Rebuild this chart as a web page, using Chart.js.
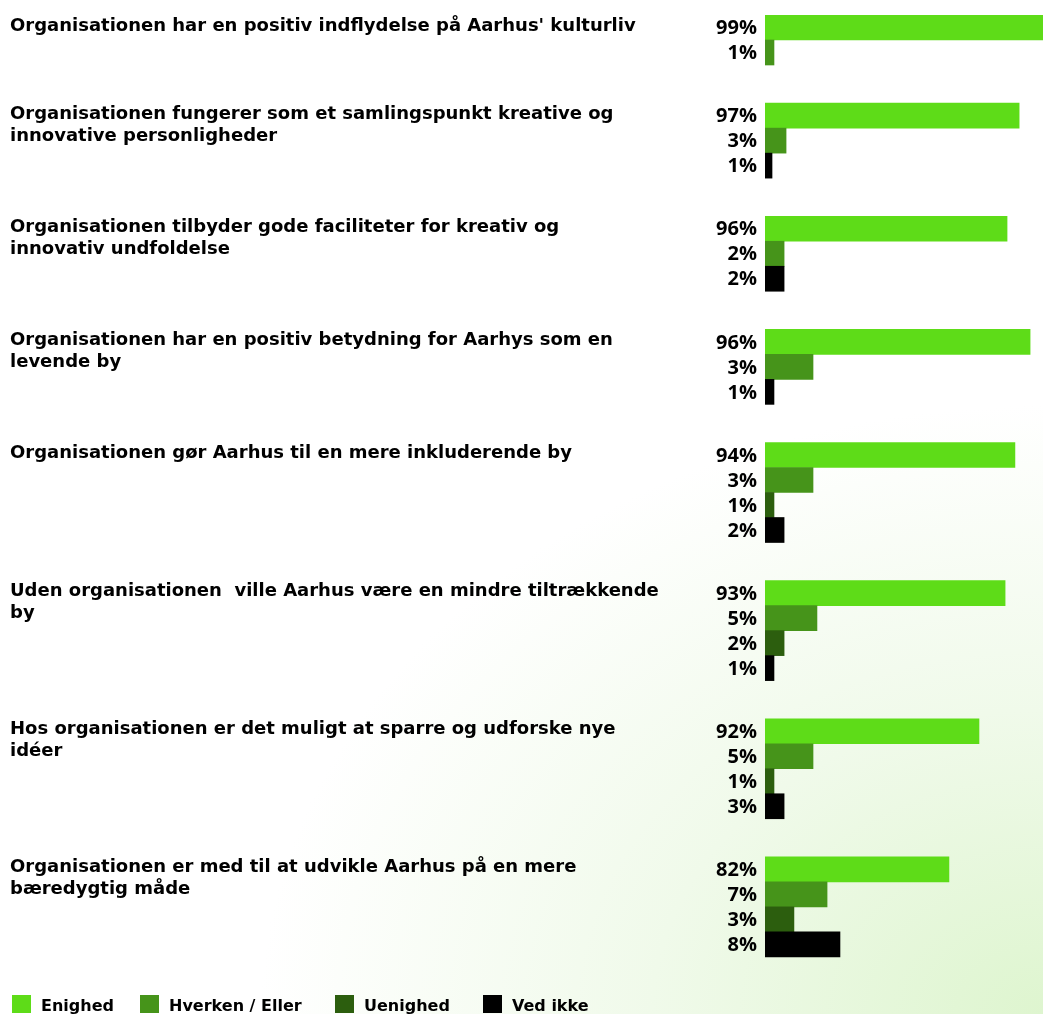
<!DOCTYPE html>
<html>
<head>
<meta charset="utf-8">
<script src="https://cdn.jsdelivr.net/npm/chart.js@4.4.0/dist/chart.umd.min.js"></script>
<style>
  html, body { margin: 0; padding: 0; }
  body {
    width: 1043px; height: 1014px; overflow: hidden;
    background: radial-gradient(ellipse 75% 60% at 100% 100%, #def5cf 0%, #f0faea 50%, #ffffff 100%);
  }
  #wrap { position: absolute; left: 0; top: 0; width: 1043px; height: 1014px; }
</style>
</head>
<body>
<div id="wrap"><canvas id="myChart" width="1043" height="1014"></canvas></div>
<script>
// questions, one line per entry
var questions = [
  ["Organisationen har en positiv indflydelse på Aarhus' kulturliv"],
  ["Organisationen fungerer som et samlingspunkt kreative og", "innovative personligheder"],
  ["Organisationen tilbyder gode faciliteter for kreativ og", "innovativ undfoldelse"],
  ["Organisationen har en positiv betydning for Aarhys som en", "levende by"],
  ["Organisationen gør Aarhus til en mere inkluderende by"],
  ["Uden organisationen  ville Aarhus være en mindre tiltrækkende", "by"],
  ["Hos organisationen er det muligt at sparre og udforske nye", "idéer"],
  ["Organisationen er med til at udvikle Aarhus på en mere", "bæredygtig måde"]
];

var categories = ["Enighed", "Hverken / Eller", "Uenighed", "Ved ikke"];
var catColors = ["#5edc18", "#46941a", "#2c5e0e", "#000000"];

// which answer category each bar in a group belongs to (0..3)
var groupCats = [
  [0, 1],
  [0, 1, 3],
  [0, 1, 3],
  [0, 1, 3],
  [0, 1, 2, 3],
  [0, 1, 2, 3],
  [0, 1, 2, 3],
  [0, 1, 2, 3]
];

// percent labels as printed
var percentLabels = [
  ["99%", "1%"],
  ["97%", "3%", "1%"],
  ["96%", "2%", "2%"],
  ["96%", "3%", "1%"],
  ["94%", "3%", "1%", "2%"],
  ["93%", "5%", "2%", "1%"],
  ["92%", "5%", "1%", "3%"],
  ["82%", "7%", "3%", "8%"]
];

// bar lengths as drawn in the picture (same scale for all bars)
var barValues = [
  [99, 3.2],
  [90.5, 7.5, 2.5],
  [86.2, 6.8, 6.8],
  [94.4, 17.1, 3.2],
  [89, 17.1, 3.2, 6.8],
  [85.5, 18.5, 6.8, 3.2],
  [76.2, 17.1, 3.2, 6.8],
  [65.5, 22.1, 10.3, 26.7]
];

var groupGap = 1.525;

function init() {
  var points = [];
  var colors = [];
  var labelsForBars = [];
  var groupStart = [];
  var pos = 0;
  for (var g = 0; g < barValues.length; g++) {
    groupStart.push(pos);
    for (var i = 0; i < barValues[g].length; i++) {
      points.push({ x: barValues[g][i], y: pos + i });
      colors.push(catColors[groupCats[g][i]]);
      labelsForBars.push(percentLabels[g][i]);
    }
    pos += barValues[g].length + groupGap;
  }

  var textPlugin = {
    id: "texts",
    afterDatasetsDraw: function (chart) {
      var ctx = chart.ctx;
      var yScale = chart.scales.y;
      ctx.save();
      ctx.fillStyle = "#000";

      // percent labels
      ctx.font = "bold 20px 'Open Sans'";
      ctx.textAlign = "right";
      ctx.textBaseline = "middle";
      for (var k = 0; k < points.length; k++) {
        ctx.fillText(labelsForBars[k], 757, yScale.getPixelForValue(points[k].y) + 1);
      }

      // questions
      ctx.font = "bold 18px 'DejaVu Sans'";
      ctx.textAlign = "left";
      ctx.textBaseline = "alphabetic";
      for (var g = 0; g < questions.length; g++) {
        var y0 = yScale.getPixelForValue(groupStart[g]) + 3;
        for (var l = 0; l < questions[g].length; l++) {
          ctx.fillText(questions[g][l], 10, y0 + l * 22);
        }
      }

      // legend
      var legendX = [12, 140, 335, 483];
      ctx.font = "bold 16px 'DejaVu Sans'";
      for (var c = 0; c < categories.length; c++) {
        ctx.fillStyle = catColors[c];
        ctx.fillRect(legendX[c], 995, 19, 18);
        ctx.fillStyle = "#000";
        ctx.fillText(categories[c], legendX[c] + 29, 1011);
      }
      ctx.restore();
    }
  };

  var ctx = document.getElementById("myChart").getContext("2d");
  var myChart = new Chart(ctx, {
    type: "bar",
    data: {
      datasets: [{
        label: "Svar",
        data: points,
        backgroundColor: colors,
        borderWidth: 0,
        barThickness: 25
      }]
    },
    options: {
      indexAxis: "y",
      responsive: false,
      animation: false,
      devicePixelRatio: 1,
      layout: { padding: { left: 765, right: 0, top: 15, bottom: 24 } },
      scales: {
        x: { type: "linear", min: 0, max: 99, display: false },
        y: { type: "linear", min: -0.5, max: 38.5, reverse: true, offset: false, display: false }
      },
      plugins: {
        legend: { display: false },
        tooltip: { enabled: false }
      }
    },
    plugins: [textPlugin]
  });
}

init();
</script>
</body>
</html>
